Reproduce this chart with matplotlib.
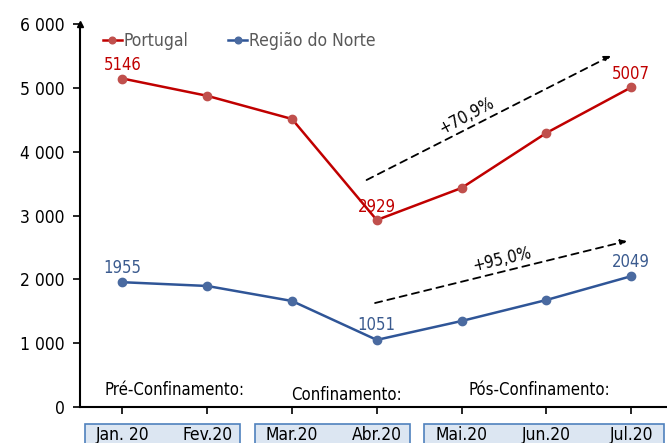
import matplotlib
matplotlib.use("Agg")
import matplotlib.pyplot as plt
from matplotlib.patches import Rectangle
from matplotlib.ticker import FuncFormatter
import matplotlib.transforms as mtransforms

plt.rcParams["font.family"] = ["DejaVu Sans"]
plt.rcParams["font.stretch"] = "condensed"

months = ["Jan. 20", "Fev.20", "Mar.20", "Abr.20", "Mai.20", "Jun.20", "Jul.20"]
portugal = [5146, 4875, 4512, 2929, 3431, 4293, 5007]
norte = [1955, 1896, 1661, 1051, 1347, 1676, 2049]
labelled = [0, 3, 6]
periods = ["Pré-Confinamento:", "Confinamento:", "Pós-Confinamento:"]
period_groups = [(0, 1), (2, 3), (4, 6)]
growth_pt = "+70,9%"
growth_nt = "+95,0%"

RED = "#c00000"
RED_M = "#c0504d"
BLUE = "#2f5597"
BLUE_M = "#4a6aa0"
BLUE_TXT = "#3b5b8f"

fig = plt.figure(figsize=(6.67, 4.43), dpi=100)
ax = fig.add_axes([80 / 667, 36 / 443, 593.5 / 667, 383 / 443])

x = list(range(len(months)))
ax.plot(x, portugal, color=RED, lw=1.8, marker="o", ms=6, mfc=RED_M, mec=RED_M, label="Portugal")
ax.plot(x, norte, color=BLUE, lw=1.8, marker="o", ms=6, mfc=BLUE_M, mec=BLUE_M, label="Região do Norte")

for i in labelled:
    ax.annotate(str(portugal[i]), (i, portugal[i]), xytext=(0, 3), textcoords="offset points",
                ha="center", va="bottom", color=RED, fontsize=12)
    ax.annotate(str(norte[i]), (i, norte[i]), xytext=(0, 4), textcoords="offset points",
                ha="center", va="bottom", color=BLUE_TXT, fontsize=12)

# growth arrows
ax.annotate("", xy=(5.76, 5500), xytext=(2.88, 3556),
            arrowprops=dict(arrowstyle="-|>", linestyle=(0, (4, 3)), color="black", lw=1.3,
                            mutation_scale=9, shrinkA=0, shrinkB=0))
ax.annotate("", xy=(5.95, 2600), xytext=(2.98, 1629),
            arrowprops=dict(arrowstyle="-|>", linestyle=(0, (4, 3)), color="black", lw=1.3,
                            mutation_scale=9, shrinkA=0, shrinkB=0))
ax.text(4.06, 4560, growth_pt, rotation=28, ha="center", va="center", fontsize=12)
ax.text(4.48, 2310, growth_nt, rotation=13, ha="center", va="center", fontsize=12)

ax.set_xlim(-0.5, 6.5)
ax.set_ylim(0, 6000)
ax.set_yticks(range(0, 6001, 1000))
ax.yaxis.set_major_formatter(FuncFormatter(lambda v, p: f"{int(v):,}".replace(",", " ")))
ax.set_xticks(x)
ax.set_xticklabels([])
ax.tick_params(axis="both", direction="out", length=5, width=1.2, labelsize=12.5, colors="black")
ax.tick_params(axis="y", pad=6)
for s in ["top", "right"]:
    ax.spines[s].set_visible(False)
for s in ["left", "bottom"]:
    ax.spines[s].set_linewidth(1.5)
ax.plot([-0.5], [6000], marker="^", color="black", ms=5, clip_on=False)

# period labels and month boxes
trans = mtransforms.blended_transform_factory(ax.transData, ax.transAxes)
period_shift = [0.11, 0.14, -0.08]
period_y = [0.045, 0.032, 0.045]
for name, (a, b), dx, py in zip(periods, period_groups, period_shift, period_y):
    ax.text((a + b) / 2 + dx, py, name, transform=trans,
            ha="center", va="center", fontsize=12)
    ax.add_patch(Rectangle((a - 0.44, -0.2), (b - a) + 0.83, 0.156, transform=trans,
                           facecolor="#dce6f2", edgecolor="#4f81bd", lw=1.2, clip_on=False))
for i, m in enumerate(months):
    ax.text(i, -0.073, m, transform=trans, ha="center", va="center", fontsize=12.5)

leg = ax.legend(loc="upper left", bbox_to_anchor=(0.012, 1.02), ncol=2, frameon=False,
                fontsize=12.5, handlelength=1.1, handletextpad=0.1, columnspacing=2.3,
                markerscale=0.8, labelcolor="#595959")

fig.savefig("out.png", dpi=100)
